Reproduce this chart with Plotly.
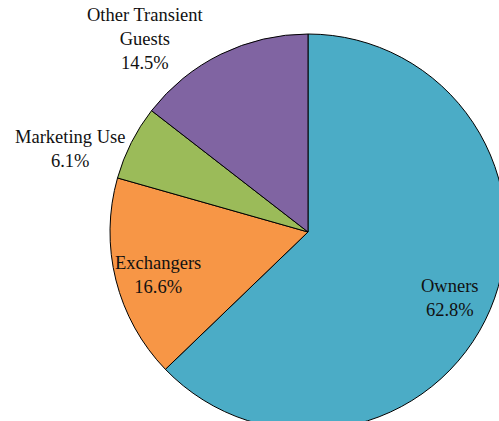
import math
import plotly.graph_objects as go

labels = ["Owners", "Exchangers", "Marketing Use", "Other Transient<br>Guests"]
values = [62.8, 16.6, 6.1, 14.5]
colors = ["#4BACC6", "#F79646", "#9BBB59", "#8064A2"]
positions = ["inside", "inside", "outside", "outside"]

FONT = dict(family="Liberation Serif, Times New Roman, serif", size=18.5, color="#111111")
INSIDE_R = 0.78    # fraction of radius for inside labels
INSIDE_DROP = 6    # px downward nudge of inside labels
LINE_H = 24        # approx line height of label text, px

total = sum(values)
annotations = []
cum = 0.0
for lab, v, pos in zip(labels, values, positions):
    mid = (cum + v / 2) / total * 2 * math.pi
    cum += v
    s, c = math.sin(mid), math.cos(mid)
    text = f"{lab}<br>{v / total * 100:.1f}%"
    if pos == "inside":
        annotations.append(dict(
            x=0.5 + INSIDE_R * 0.5 * s, y=0.5 + INSIDE_R * 0.5 * c,
            xref="paper", yref="paper", xanchor="center", yanchor="middle",
            yshift=-INSIDE_DROP,
            text=text, showarrow=False, font=FONT, align="center",
        ))
    else:
        nlines = text.count("<br>") + 1
        gap = 25 * abs(c) - 7
        annotations.append(dict(
            x=0.5 + 0.5 * s, y=0.5 + 0.5 * c,
            xref="paper", yref="paper",
            xanchor="right" if s < 0 else "left", yanchor="middle",
            xshift=-gap if s < 0 else gap,
            yshift=nlines * LINE_H / 2 * c - 17,
            text=text, showarrow=False, font=FONT, align="center",
        ))

fig = go.Figure(go.Pie(
    labels=labels,
    values=values,
    sort=False,
    direction="clockwise",
    rotation=0,
    marker=dict(colors=colors, line=dict(color="#000000", width=1)),
    textinfo="none",
    hoverinfo="label+percent",
    showlegend=False,
))

fig.update_layout(
    width=520,
    height=440,
    margin=dict(l=110, r=14, t=34, b=10),
    paper_bgcolor="white",
    plot_bgcolor="white",
    annotations=annotations,
)

fig.write_html(
    "out.html",
    config={"displayModeBar": False},
    post_script="document.body.style.margin='0';document.body.style.overflow='hidden';",
)
